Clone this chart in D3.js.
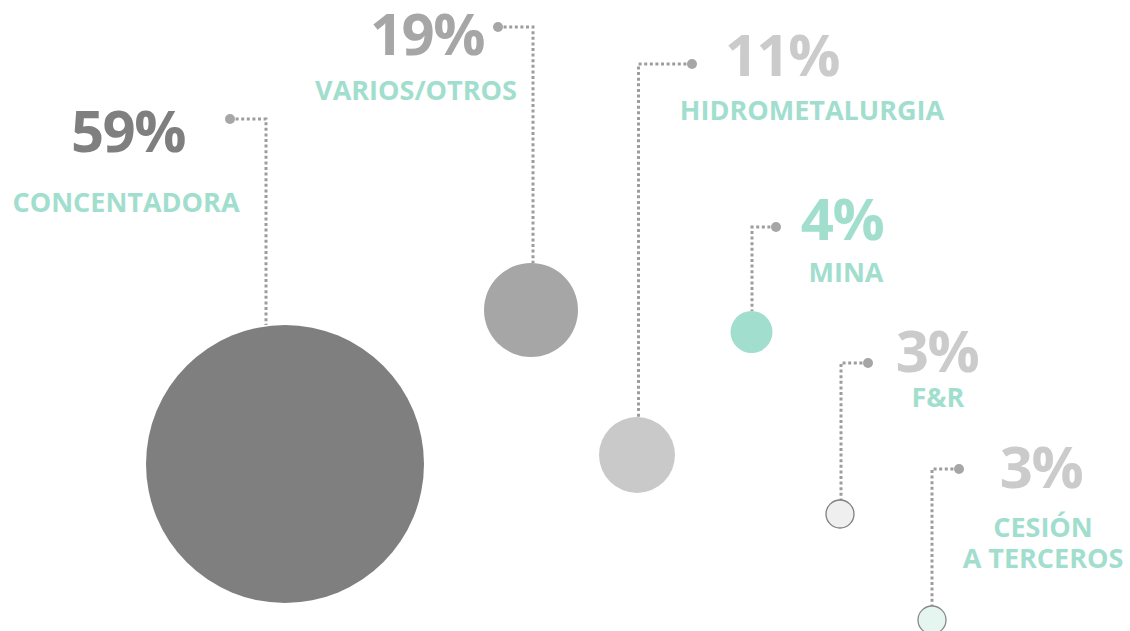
<!DOCTYPE html>
<html>
<head>
<meta charset="utf-8">
<script src="https://cdn.jsdelivr.net/npm/d3@7"></script>
<style>
  html, body { margin: 0; padding: 0; background: #ffffff; }
  svg { display: block; }
  text { font-family: "Open Sans", "Noto Sans", sans-serif; font-weight: 700; }
</style>
</head>
<body>
<div id="chart"></div>
<script>
// ---- data ----
const categories = ["CONCENTADORA", "VARIOS/OTROS", "HIDROMETALURGIA", "MINA", "F&R", "CESIÓN\nA TERCEROS"];
const values = [59, 19, 11, 4, 3, 3];

// ---- styles ----
const circleFill   = ["#7f7f7f", "#a6a6a6", "#c9c9c9", "#a1dece", "#efefef", "#e5f6f0"];
const circleStroke = ["none", "none", "none", "none", "#808080", "#8a8a8a"];
const valueColor   = ["#7f7f7f", "#a6a6a6", "#cbcbcb", "#a1dece", "#cbcbcb", "#cbcbcb"];
const labelColor = "#a1dece";

// ---- layout (positions) ----
const circleX = [285, 531, 637, 751.5, 840, 932];
const circleY = [464, 310, 455, 332, 514, 620];
const dotX    = [230, 498, 692, 776, 868, 959];
const dotY    = [119, 27, 64, 227, 363, 469];
const stemX   = [266, 533, 638.5, 752, 841, 932];
const valX    = [128, 427, 782, 842, 937, 1041];
const valY    = [152, 55, 76, 240, 372, 488];
const labX    = [126, 416, 812, 846, 938, 1043];
const labY    = [212, 100, 120, 282, 407, 537];

const W = 1130, H = 631;
const svg = d3.select("#chart").append("svg").attr("width", W).attr("height", H);

// radius scale (piecewise linear)
const r = d3.scaleLinear().domain([3, 4, 11, 19, 59]).range([14, 21, 38, 47, 139]);

const data = categories.map((c, i) => ({ c, v: values[i], i }));

// connectors
const g = svg.append("g");
g.selectAll("path.conn").data(data).join("path")
  .attr("class", "conn")
  .attr("d", d => {
    const top = circleY[d.i] - r(d.v);
    return d3.line()([[dotX[d.i], dotY[d.i]], [stemX[d.i], dotY[d.i]], [stemX[d.i], top]]);
  })
  .attr("fill", "none")
  .attr("stroke", "#9d9d9d")
  .attr("stroke-width", 3)
  .attr("stroke-dasharray", "3,2.6");

g.selectAll("circle.dot").data(data).join("circle")
  .attr("class", "dot")
  .attr("cx", d => dotX[d.i]).attr("cy", d => dotY[d.i])
  .attr("r", 5).attr("fill", "#a6a6a6");

// bubbles
g.selectAll("circle.bub").data(data).join("circle")
  .attr("class", "bub")
  .attr("cx", d => circleX[d.i]).attr("cy", d => circleY[d.i])
  .attr("r", d => r(d.v))
  .attr("fill", d => circleFill[d.i])
  .attr("stroke", d => circleStroke[d.i])
  .attr("stroke-width", 1.3);

// values
g.selectAll("text.val").data(data).join("text")
  .attr("class", "val")
  .attr("x", d => valX[d.i]).attr("y", d => valY[d.i])
  .attr("text-anchor", "middle")
  .attr("font-size", 58)
  .attr("letter-spacing", -1.5)
  .attr("fill", d => valueColor[d.i])
  .text(d => d.v + "%");

// labels
const lab = g.selectAll("text.lab").data(data).join("text")
  .attr("class", "lab")
  .attr("x", d => labX[d.i]).attr("y", d => labY[d.i])
  .attr("text-anchor", "middle")
  .attr("font-size", 27)
  .attr("fill", labelColor);
lab.selectAll("tspan").data(d => d.c.split("\n").map(t => ({ t, d }))).join("tspan")
  .attr("x", o => labX[o.d.i])
  .attr("dy", (o, k) => k === 0 ? 0 : 30.5)
  .text(o => o.t);
</script>
</body>
</html>
